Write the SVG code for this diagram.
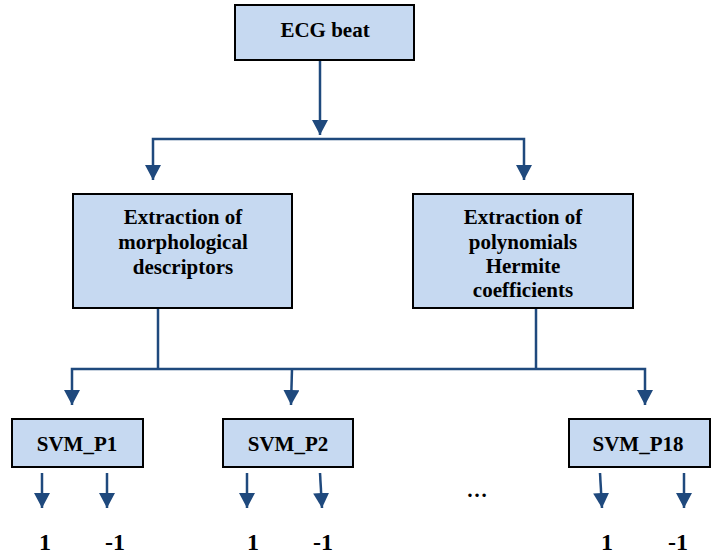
<svg xmlns="http://www.w3.org/2000/svg" width="714" height="556" viewBox="0 0 714 556">
<style>
.box{fill:#C6D9F1;stroke:#000;stroke-width:2}
text{font-weight:bold;fill:#000;text-anchor:middle}
.t{font-size:21px}
.lbl{font-size:24px}
.c{fill:none;stroke:#1F497D;stroke-width:2.5}
.a{marker-end:url(#ah)}
</style>
<defs>
<marker id="ah" markerUnits="userSpaceOnUse" markerWidth="16" markerHeight="16" refX="15" refY="8" orient="auto">
<path d="M0,0 L15,8 L0,16 z" fill="#1F497D"/>
</marker>
</defs>
<rect width="714" height="556" fill="#fff"/>
<g id="connectors">
<path class="c a" d="M320,60 V135"/>
<path class="c a" d="M320,139 H153 V180"/>
<path class="c a" d="M320,139 H524 V180"/>
<path class="c" d="M158,308 V369"/>
<path class="c" d="M536,308 V369"/>
<path class="c a" d="M158,369 H72 V405"/>
<path class="c a" d="M292,369 L291,405"/>
<path class="c" d="M158,369 H536"/>
<path class="c a" d="M536,369 H645 V405"/>
<path class="c a" d="M42,473 V508"/>
<path class="c a" d="M107,473 V508"/>
<path class="c a" d="M247,473 V508"/>
<path class="c a" d="M320,473 L322,508"/>
<path class="c a" d="M600,473 L602,508"/>
<path class="c a" d="M684,473 V508"/>
</g>
<g font-family="Liberation Serif, Times New Roman, serif">
<g id="ecg">
<rect class="box" x="235" y="5" width="179" height="55"/>
<text class="t" x="325" y="37">ECG beat</text>
</g>
<g id="morph">
<rect class="box" x="73" y="194" width="219" height="114"/>
<text class="t" x="183" y="224">Extraction of</text>
<text class="t" x="183" y="249">morphological</text>
<text class="t" x="183" y="274">descriptors</text>
</g>
<g id="hermite">
<rect class="box" x="413" y="194" width="220" height="114"/>
<text class="t" x="523" y="224">Extraction of</text>
<text class="t" x="523" y="249">polynomials</text>
<text class="t" x="523" y="273">Hermite</text>
<text class="t" x="523" y="297">coefficients</text>
</g>
<g id="svm1">
<rect class="box" x="12" y="419" width="131" height="48"/>
<text class="t" x="77" y="451">SVM_P1</text>
</g>
<g id="svm2">
<rect class="box" x="223" y="419" width="130" height="48"/>
<text class="t" x="288" y="451">SVM_P2</text>
</g>
<g id="svm18">
<rect class="box" x="569" y="419" width="141" height="48"/>
<text class="t" x="638" y="451">SVM_P18</text>
</g>
<g id="labels">
<text class="lbl" x="45" y="550">1</text>
<text class="lbl" x="115" y="550">-1</text>
<text class="lbl" x="253" y="550">1</text>
<text class="lbl" x="323" y="550">-1</text>
<text class="t" x="477" y="497">…</text>
<text class="lbl" x="607" y="550">1</text>
<text class="lbl" x="678" y="550">-1</text>
</g>
</g>
</svg>
